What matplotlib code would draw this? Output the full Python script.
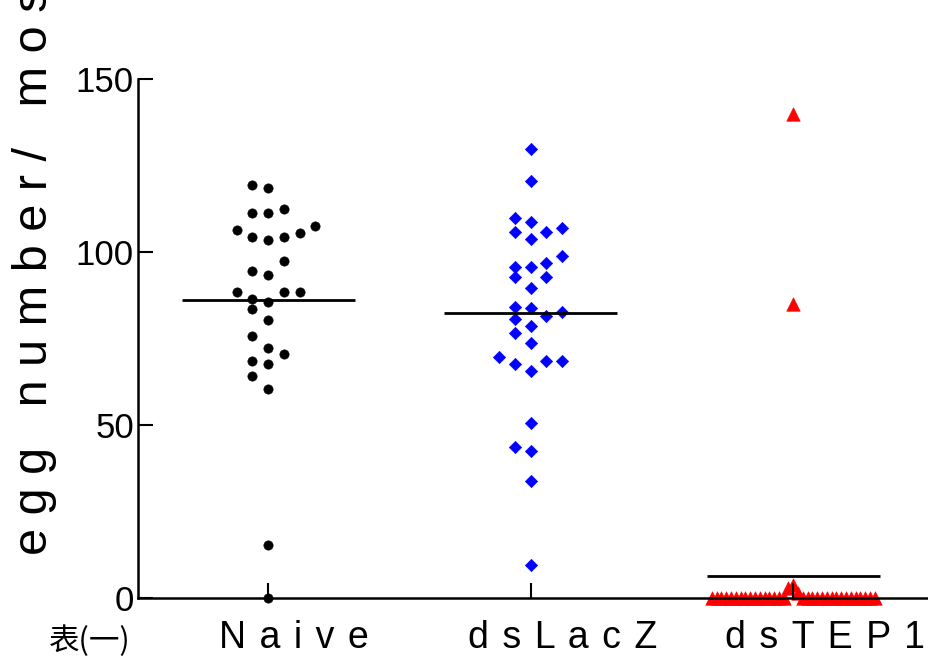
import numpy as np
import matplotlib
matplotlib.use("Agg")
import matplotlib.pyplot as plt
from matplotlib.transforms import offset_copy

plt.rcParams['font.family'] = ['Liberation Sans', 'DejaVu Sans']

# Datos (numero de huevos por mosquito)
grupos = ['Naive', 'dsLacZ', 'dsTEP1']
naive = [119.4, 118.5, 112.4, 111.4, 111.4, 107.4, 106.4, 105.6, 104.3, 104.3,
         103.5, 97.5, 94.5, 93.4, 88.4, 88.4, 88.4, 86.4, 85.5, 83.4,
         80.4, 75.6, 72.3, 70.6, 68.4, 67.5, 64.3, 60.4, 15.4, 0]
dslacz = [129.7, 120.6, 109.8, 108.8, 106.8, 105.8, 105.8, 103.7, 98.7, 96.7,
          95.8, 95.8, 92.7, 92.7, 89.7, 84.0, 83.8, 82.6, 81.6, 80.7,
          78.7, 76.7, 73.6, 69.6, 68.6, 68.6, 67.7, 65.6, 50.6, 43.6,
          42.5, 33.7, 9.5]
dstep1 = [139.8, 84.9, 3.7, 2.8, 1.5,
          0, 0, 0, 0, 0, 0, 0, 0, 0, 0, 0, 0, 0, 0, 0, 0,
          0, 0, 0, 0, 0, 0, 0, 0, 0, 0, 0, 0, 0, 0, 0, 0]
y_ticks = [0, 50, 100, 150]
y_label = 'egg number/ mos'
nota = '表(一)'

datos = [naive, dslacz, dstep1]
marcadores = ['o', 'D', '^']
tamanos = [45, 40, 95]
colores = ['black', '#0000FF', '#FF0000']


def columna_dispersa(valores, alto_fila=4.25, paso=0.06, medio_max=0.31):
    # reparte los puntos en filas y los separa horizontalmente (tipo Prism)
    valores = np.asarray(valores, dtype=float)
    orden = np.argsort(valores, kind='stable')
    desp = np.zeros(len(valores))
    huecos = [0, -1, 1]
    for m in range(2, 40):
        huecos += [m, -m]
    i = 0
    while i < len(orden):
        inicio = valores[orden[i]]
        j = i
        while j < len(orden) and valores[orden[j]] < inicio + alto_fila:
            j += 1
        fila = orden[i:j]
        slots = np.array(huecos[:len(fila)])
        p = paso
        if len(fila) > 1 and np.abs(slots).max() * paso > medio_max:
            # fila demasiado ancha: se comprime y se centra en los valores altos
            p = medio_max / np.abs(slots).max()
            fila = fila[::-1]
        desp[fila] = slots * p
        i = j
    return desp


fig = plt.figure(figsize=(9.29, 6.59), dpi=100)
ax = fig.add_axes([138 / 929, 1 - 598 / 659, 1 - 138 / 929, (598 - 79) / 659])

for k, vals in enumerate(datos):
    x = k + columna_dispersa(vals)
    ax.scatter(x, vals, marker=marcadores[k], s=tamanos[k], color=colores[k],
               edgecolors=colores[k], linewidths=0.4, clip_on=False, zorder=1)
    media = np.mean(vals)
    ax.hlines(media, k - 0.33, k + 0.33, color='black', lw=2, zorder=2)

ax.set_xlim(-0.496, 2.517)
ax.set_ylim(0, 150)
ax.set_yticks(y_ticks)
ax.set_yticklabels([str(v) for v in y_ticks], fontsize=25)
ax.set_xticks(range(len(grupos)))
ax.set_xticklabels([''] * len(grupos))
ax.tick_params(direction='in', length=11, width=1.5, color='black')
ax.tick_params(axis='y', pad=3)
for lado in ['top', 'right']:
    ax.spines[lado].set_visible(False)
for lado in ['left', 'bottom']:
    ax.spines[lado].set_linewidth(1.8)

# etiquetas del eje x con letras espaciadas
fig.canvas.draw()
render = fig.canvas.get_renderer()
sep = ' \u200a'
for k, g in enumerate(grupos):
    tmp = fig.text(0, 0, g, fontsize=27)
    w = tmp.get_window_extent(render).width
    tmp.remove()
    trans = offset_copy(ax.get_xaxis_transform(), fig=fig, x=-w / 2 - 1, y=-22, units='dots')
    ax.text(k, 0, sep.join(g), transform=trans, fontsize=27, ha='left', va='top',
            clip_on=False)

fig.text(35 / 929, 1 - 555 / 659, ' '.join(y_label), rotation=90, fontsize=35,
         ha='center', va='bottom')
fig.text(90 / 929, 1 - 641 / 659, nota, fontsize=22,
         family=['Noto Sans CJK SC', 'DejaVu Sans'], ha='center', va='center')

fig.savefig('out.png', dpi=100)
